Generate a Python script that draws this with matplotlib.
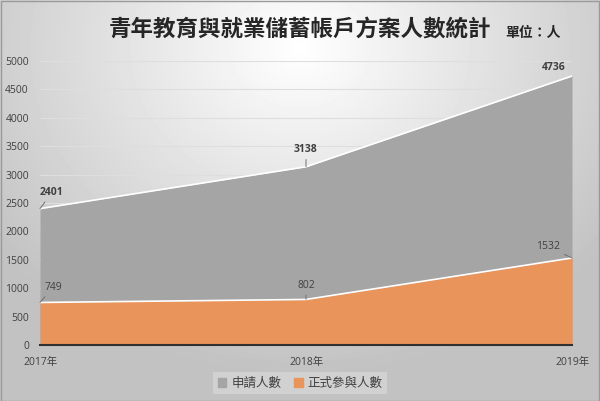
import matplotlib.pyplot as plt
import numpy as np
from matplotlib.patches import Patch

plt.rcParams['font.family'] = ['Open Sans', 'Noto Sans CJK TC', 'DejaVu Sans']

years = ["2017年", "2018年", "2019年"]
applied = [2401, 3138, 4736]
joined = [749, 802, 1532]
series_names = ["申請人數", "正式參與人數"]

GRAY = "#a5a5a5"
ORANGE = "#e9945b"
TEXT = "#404040"

fig = plt.figure(figsize=(6, 4.01), dpi=100)

# background gradient (light centre, grey edges)
bg = fig.add_axes([0, 0, 1, 1], zorder=-5)
yy, xx = np.mgrid[0:1:401j, 0:1:600j]
r = np.sqrt(((xx - 0.5) / 0.75) ** 2 + ((yy - 0.12) / 0.95) ** 2)
shade = np.clip(1.0 - 0.28 * r, 0.76, 1.0)
bg.imshow(shade, cmap="gray", vmin=0, vmax=1, aspect="auto", extent=[0, 1, 0, 1], origin="upper")
bg.set_xlim(0, 1)
bg.set_ylim(0, 1)
bg.axis("off")
bg.add_patch(plt.Rectangle((0.001, 0.001), 0.998, 0.997, fill=False, ec="#9a9a9a", lw=1))

ax = fig.add_axes([40 / 600, 1 - 345 / 401, 532 / 600, 284 / 401])
ax.patch.set_alpha(0)
x = np.arange(len(years))

ax.fill_between(x, 0, applied, color=GRAY, lw=0, zorder=2)
ax.plot(x, applied, color="white", lw=1.2, zorder=3)
ax.fill_between(x, 0, joined, color=ORANGE, lw=0, zorder=4)
ax.plot(x, joined, color="white", lw=1.2, zorder=5)

ax.set_xlim(0, 2)
ax.set_ylim(0, 5000)
ax.set_yticks(np.arange(0, 5001, 500))
ax.set_xticks(x)
ax.set_xticklabels(years)
ax.grid(axis="y", color="#dedede", lw=0.8, zorder=0)
ax.set_axisbelow(True)
for s in ["top", "right", "left"]:
    ax.spines[s].set_visible(False)
ax.spines["bottom"].set_color("#303030")
ax.spines["bottom"].set_linewidth(1.5)
ax.spines["bottom"].set_zorder(6)
ax.tick_params(length=0, labelsize=7.5, labelcolor=TEXT)
ax.tick_params(axis="y", pad=8)
ax.tick_params(axis="x", pad=9)

lead = dict(arrowstyle="-", color="#707070", lw=0.7, shrinkA=1, shrinkB=0)
offsets_applied = [(8.6, 11.5), (0, 12.2), (-13, 5.8)]
offsets_joined = [(9.4, 10.8), (0, 10), (-17, 8)]
for i in range(len(years)):
    ax.annotate(str(applied[i]), (x[i], applied[i]), offsets_applied[i], textcoords="offset points",
                ha="center", va="center", fontsize=7.5, color=TEXT, fontweight="bold",
                arrowprops=lead if i < 2 else None, zorder=8, annotation_clip=False)
    ax.annotate(str(joined[i]), (x[i], joined[i]), offsets_joined[i], textcoords="offset points",
                ha="center", va="center", fontsize=7.5, color=TEXT,
                arrowprops=lead, zorder=8, annotation_clip=False)

fig.text(0.5, 1 - 30 / 401, "青年教育與就業儲蓄帳戶方案人數統計", ha="center", va="center",
         fontsize=16.2, fontweight="bold", color="#262626", family=["Noto Sans CJK TC", "DejaVu Sans"])
fig.text(0.888, 1 - 33 / 401, "單位：人", ha="center", va="center", fontsize=10,
         fontweight="bold", color="#262626", family=["Noto Sans CJK TC", "DejaVu Sans"])

handles = [Patch(color=GRAY), Patch(color=ORANGE)]
leg = fig.legend(handles, series_names, loc="center", bbox_to_anchor=(0.5, 1 - 383 / 401), ncol=2,
                 frameon=True, handlelength=0.7, handleheight=0.7, handletextpad=0.4,
                 columnspacing=1.0, borderpad=0.35, fancybox=False,
                 prop={"family": ["Noto Sans CJK TC", "DejaVu Sans"], "size": 9})
leg.get_frame().set_facecolor("#d6d6d6")
leg.get_frame().set_edgecolor("none")
for t in leg.get_texts():
    t.set_color(TEXT)

fig.savefig("out.png", dpi=100)
